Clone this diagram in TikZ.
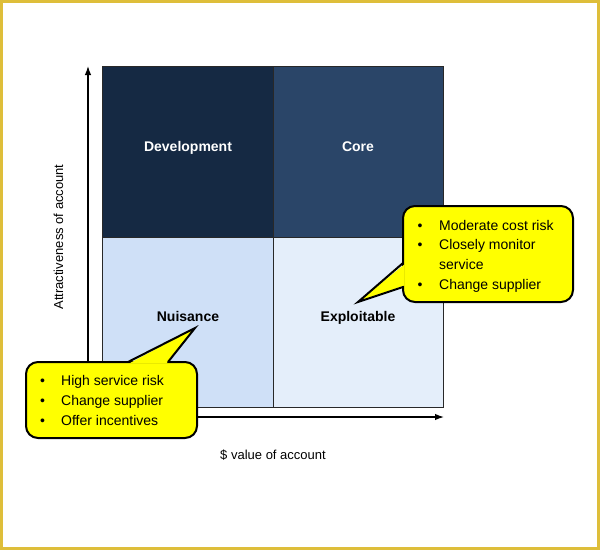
\documentclass[tikz,border=0pt]{standalone}
\usepackage{fontspec}
\setmainfont{Liberation Sans}
\usetikzlibrary{arrows.meta}
\definecolor{framegold}{RGB}{222,190,58}
\definecolor{qdev}{RGB}{21,41,67}
\definecolor{qcore}{RGB}{42,69,104}
\definecolor{qnui}{RGB}{207,224,247}
\definecolor{qexp}{RGB}{228,238,250}
\definecolor{cellline}{RGB}{40,40,40}
\definecolor{calloutyellow}{RGB}{255,255,0}
\begin{document}
\begin{tikzpicture}[x=1pt,y=-1pt,
  cell/.style={draw=cellline, line width=0.8pt, inner sep=0, outer sep=0},
  qlabel/.style={font=\fontsize{14}{16}\selectfont\bfseries, anchor=base, inner sep=0},
  axislabel/.style={font=\fontsize{13}{15}\selectfont, anchor=base, inner sep=0},
  axisline/.style={line width=1.3pt, -{Latex[length=9pt,width=6.5pt]}},
  callout/.style={draw=black, line width=2pt, fill=calloutyellow, rounded corners=12pt, inner sep=0},
  pointeredge/.style={draw=black, line width=2pt, line join=miter},
  callouttext/.style={anchor=base west, inner sep=0},
]
\useasboundingbox (0,0) rectangle (600,550);
\fill[white] (0,0) rectangle (600,550);
\draw[framegold, line width=3pt] (1.5,1.5) rectangle (598.5,548.5);

% quadrants
\node[cell, fill=qdev,  minimum width=171pt, minimum height=171pt] (dev)  at (187.5,151.5) {};
\node[cell, fill=qcore, minimum width=170pt, minimum height=171pt] (core) at (358,151.5) {};
\node[cell, fill=qnui,  minimum width=171pt, minimum height=170pt] (nui)  at (187.5,322) {};
\node[cell, fill=qexp,  minimum width=170pt, minimum height=170pt] (expl) at (358,322) {};

\node[qlabel, text=white] (devlabel)  at (188,151) {Development};
\node[qlabel, text=white] (corelabel) at (358,151) {Core};
\node[qlabel] (nuilabel)  at (188,321) {Nuisance};
\node[qlabel] (expllabel) at (358,321) {Exploitable};

% axes
\coordinate (origin) at (88,417);
\coordinate (ytip) at (88,66);
\coordinate (xtip) at (444,417);
\draw[axisline] (origin) -- (ytip);
\draw[axisline] (origin) -- (xtip);
\node[axislabel] (xlabel) at (273,459) {\$ value of account};
\node[axislabel, rotate=90] (ylabel) at (63,237) {Attractiveness of account};

% callout 1
\node[callout, minimum width=171pt, minimum height=76pt] (c1) at (111.5,400) {};
\coordinate (p1a) at (128,362);
\coordinate (p1tip) at (195,328);
\coordinate (p1b) at (168,362);
\fill[calloutyellow] (129.5,363.3) -- (p1tip) -- (166.5,363.3) -- cycle;
\draw[pointeredge] (p1a) -- (p1tip) -- (p1b);
\node[callouttext] (t1) at (40,385) {\fontsize{14}{20}\selectfont
  \begin{tabular}[t]{@{}p{21pt}@{}l@{}}
  \textbullet & High service risk\\
  \textbullet & Change supplier\\
  \textbullet & Offer incentives
  \end{tabular}};

% callout 2
\node[callout, minimum width=170pt, minimum height=96pt] (c2) at (488,254) {};
\coordinate (p2a) at (403,263);
\coordinate (p2tip) at (358,302);
\coordinate (p2b) at (403,287);
\fill[calloutyellow] (404.3,264.5) -- (p2tip) -- (404.3,285.5) -- cycle;
\draw[pointeredge] (p2a) -- (p2tip) -- (p2b);
\node[callouttext] (t2) at (417.5,230) {\fontsize{14}{19.7}\selectfont
  \begin{tabular}[t]{@{}p{21.5pt}@{}l@{}}
  \textbullet & Moderate cost risk\\
  \textbullet & Closely monitor\\
   & service\\
  \textbullet & Change supplier
  \end{tabular}};
\end{tikzpicture}
\end{document}
